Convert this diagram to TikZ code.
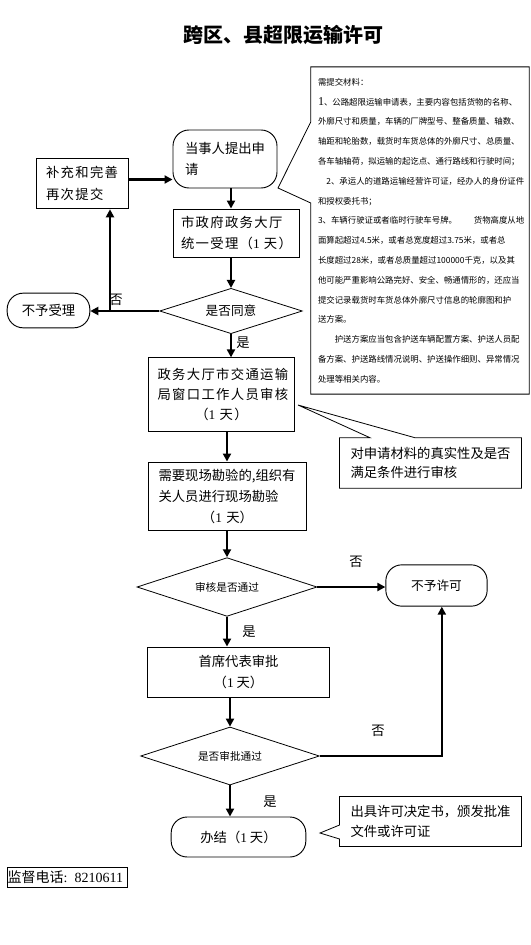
\documentclass[tikz,border=0pt]{standalone}
\usepackage{fontspec}
\setmainfont{Liberation Serif}
\newfontfamily\cjk{Noto Sans CJK SC}
\newfontfamily\cjkw[LetterSpace=10]{Noto Sans CJK SC}
\usetikzlibrary{positioning,shapes.geometric,arrows.meta}

\begin{document}
\begin{tikzpicture}[
    x=0.75pt, y=-0.75pt,
    box/.style={rectangle, draw, line width=0.7pt, inner sep=0pt, font=\cjk\fontsize{10}{15.75}\selectfont},
    wbox/.style={box, font=\cjkw\fontsize{10}{15.75}\selectfont},
    term/.style={box, rounded corners=12pt},
    decision/.style={diamond, draw, line width=0.6pt, inner sep=0pt, aspect=3, font=\cjk\fontsize{8}{10}\selectfont},
    note/.style={rectangle, inner sep=0pt, align=left, font=\cjk\fontsize{10}{15}\selectfont},
    lbl/.style={inner sep=0pt, font=\cjk\fontsize{10}{12}\selectfont},
    arrow/.style={-{Triangle[width=6pt,length=6pt]}, line width=1.7pt},
    thin/.style={line width=0.6pt}
]
    \useasboundingbox (0,0) rectangle (531,945);

    \node[font=\cjk\bfseries\fontsize{15}{18}\selectfont] (title) at (283,35) {跨区、县超限运输许可};

    \node[wbox, term, minimum width=78pt, minimum height=43.5pt, align=left] (apply) at (225,159) {当事人提出申\\请};
    \node[wbox, minimum width=69pt, minimum height=38pt, align=left, font=\cjkw\fontsize{10}{16.5}\selectfont] (supp) at (82,183.5) {补充和完善\\再次提交};
    \node[wbox, minimum width=95pt, minimum height=36pt, align=left] (accept) at (236.5,233) {市政府政务大厅\\统一受理（{\rmfamily 1} 天）};
    \node[decision, minimum width=107pt, minimum height=34pt, font=\cjk\fontsize{9.5}{11}\selectfont] (agree) at (231,311) {是否同意};
    \node[box, term, minimum width=62pt, minimum height=26pt] (reject) at (48.5,310.5) {不予受理};
    \node[wbox, minimum width=110pt, minimum height=55pt, text width=96pt, align=left, font=\cjkw\fontsize{10}{15}\selectfont] (review) at (221.5,394.5) {政务大厅市交通运输\\局窗口工作人员审核\\\makebox[\linewidth]{（{\rmfamily 1} 天）}};
    \node[box, minimum width=119pt, minimum height=51pt, text width=103.5pt, align=left] (survey) at (227.5,496) {需要现场勘验的,组织有\\关人员进行现场勘验\\\makebox[\linewidth]{（{\rmfamily 1} 天）}};
    \node[decision, minimum width=135pt, minimum height=44pt] (pass) at (227,587) {审核是否通过};
    \node[box, term, minimum width=76pt, minimum height=31pt, font=\cjk\fontsize{9.5}{12}\selectfont] (deny) at (436.5,585.5) {不予许可};
    \node[box, minimum width=136pt, minimum height=37.5pt, align=center] (chief) at (238.5,672) {首席代表审批\\（{\rmfamily 1} 天）};
    \node[decision, minimum width=134pt, minimum height=43.5pt] (approve) at (230,756) {是否审批通过};
    \node[box, term, minimum width=101pt, minimum height=30pt] (done) at (238.5,837) {办结（{\rmfamily 1} 天）};

    \node[note, minimum width=163.5pt, minimum height=245pt, text width=153pt, font=\cjk\fontsize{6.3}{14.85}\selectfont] (mat) at (420,230.5) {需提交材料：\\
        {\rmfamily\fontsize{9}{14.85}\selectfont 1}、公路超限运输申请表，主要内容包括货物的名称、\\
        外廓尺寸和质量，车辆的厂牌型号、整备质量、轴数、\\
        轴距和轮胎数，载货时车货总体的外廓尺寸、总质量、\\
        各车轴轴荷，拟运输的起讫点、通行路线和行驶时间；\\
        　2、承运人的道路运输经营许可证，经办人的身份证件\\
        和授权委托书；\\
        3、车辆行驶证或者临时行驶车号牌。　　货物高度从地\\
        面算起超过4.5米，或者总宽度超过3.75米，或者总\\
        长度超过28米，或者总质量超过100000千克，以及其\\
        他可能严重影响公路完好、安全、畅通情形的，还应当\\
        提交记录载货时车货总体外廓尺寸信息的轮廓图和护\\
        送方案。\\
        　　护送方案应当包含护送车辆配置方案、护送人员配\\
        备方案、护送路线情况说明、护送操作细则、异常情况\\
        处理等相关内容。};
    \node[note, minimum width=136pt, minimum height=37.5pt, font=\cjk\fontsize{10}{14.5}\selectfont] (check) at (430.5,463) {对申请材料的真实性及是否\\满足条件进行审核};
    \node[note, minimum width=136pt, minimum height=37pt] (issue) at (430.5,821.5) {出具许可决定书，颁发批准\\文件或许可证};
    \node[draw, line width=0.7pt, inner sep=0.5pt, minimum width=90pt, minimum height=15pt, text width=89pt, align=left, font=\fontsize{10.5}{12}\selectfont] (phone) at (67,877) {{\cjk 监督电话}: 8210611};

    \coordinate (tipmat) at (278,188);
    \coordinate (tipcheck) at (298,405);
    \coordinate (tipissue) at (320,833);
    \coordinate (fork) at (agree.west -| 110,0);

    \draw[thin] (mat.west |- 0,122) -- (mat.north west) -- (mat.north east) -- (mat.south east) -- (mat.south west) -- (mat.west |- 0,203) -- (tipmat) -- cycle;
    \draw[thin] (check.north -| 415,0) -- (check.north east) -- (check.south east) -- (check.south west) -- (check.north west) -- (check.north -| 370,0) -- (tipcheck) -- cycle;
    \draw[thin] (issue.west |- 0,839) -- (issue.south west) -- (issue.south east) -- (issue.north east) -- (issue.north west) -- (issue.west |- 0,825) -- (tipissue) -- cycle;

    \draw[arrow] ([yshift=3pt]supp.east) -- ([yshift=3pt]supp.east -| apply.west);
    \draw[arrow] (apply.south -| agree.north) -- (accept.north -| agree.north);
    \draw[arrow] (accept.south -| agree.north) -- (agree.north);
    \draw[arrow] (agree.west) -- (agree.west -| reject.east);
    \draw[arrow] (fork) -- (fork |- supp.south);
    \draw[arrow] (agree.south) -- (agree.south |- review.north);
    \draw[arrow] (review.south -| pass.north) -- (survey.north -| pass.north);
    \draw[arrow] (survey.south -| pass.north) -- (pass.north);
    \draw[arrow] (pass.east) -- (pass.east -| deny.west);
    \draw[arrow] (pass.south) -- (pass.south |- chief.north);
    \draw[arrow] (chief.south -| approve.north) -- (approve.north);
    \draw[arrow] (approve.east) -| ([xshift=4pt]deny.south);
    \draw[arrow] (approve.south) -- (approve.south |- done.north);

    \node[lbl] (no1) at (116,300) {否};
    \node[lbl] (yes1) at (243,343) {是};
    \node[lbl] (no2) at (356,562) {否};
    \node[lbl] (yes2) at (249,632) {是};
    \node[lbl] (no3) at (378,731) {否};
    \node[lbl] (yes3) at (270,802) {是};
\end{tikzpicture}
\end{document}
